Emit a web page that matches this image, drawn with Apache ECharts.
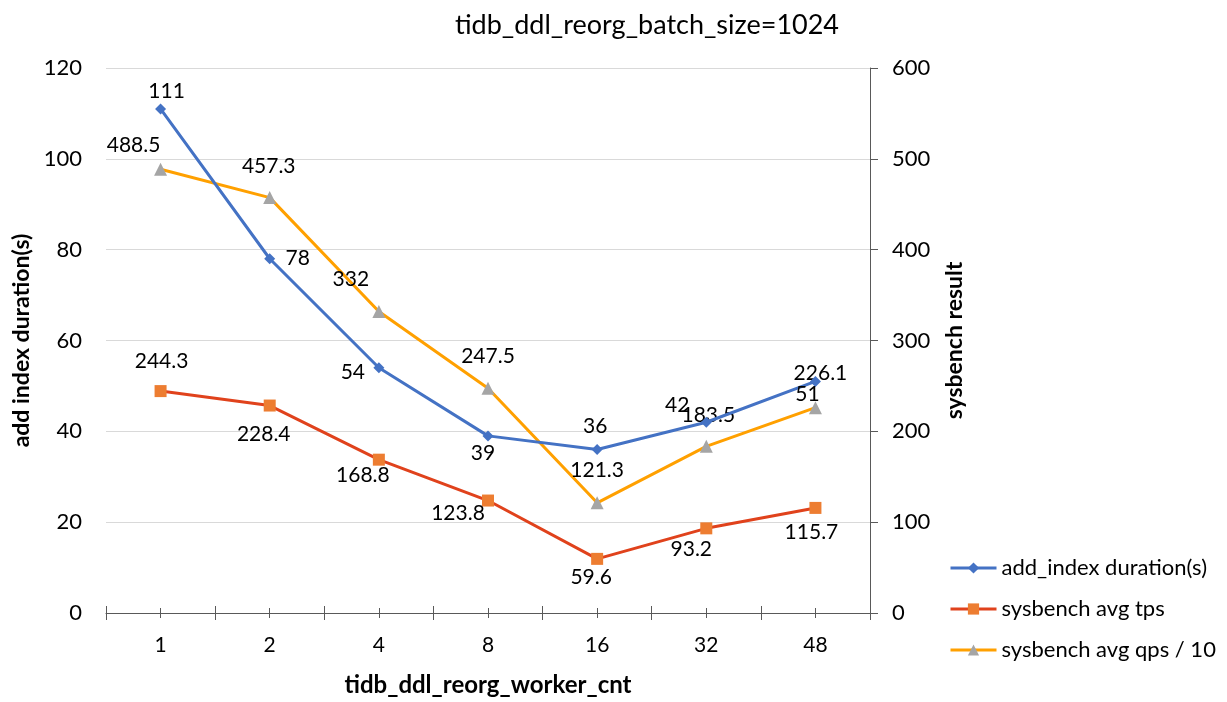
<!DOCTYPE html>
<html>
<head>
<meta charset="utf-8">
<script src="https://cdn.jsdelivr.net/npm/echarts@6/dist/echarts.min.js"></script>
<style>
html,body{margin:0;padding:0;background:#fff;}
#c{width:1227px;height:702px;}
</style>
</head>
<body>
<div id="c"></div>
<script>
const categories = ['1', '2', '4', '8', '16', '32', '48'];
const addIndexDuration = [111, 78, 54, 39, 36, 42, 51];
const sysbenchTps = [244.3, 228.4, 168.8, 123.8, 59.6, 93.2, 115.7];
const sysbenchQps10 = [488.5, 457.3, 332, 247.5, 121.3, 183.5, 226.1];
const seriesNames = ['add_index duration(s)', 'sysbench avg tps', 'sysbench avg qps / 10'];
const titleText = 'tidb_ddl_reorg_batch_size=1024';

// label offsets (style only): label centre relative to marker
const offBlue = [[6,-18],[28,-1],[-26,4],[-5,17],[-2,-23],[-29,-17],[-8,13]];
const offRed = [[1,-30],[-6,29],[-16,16],[-30,13],[-6,18],[-15,21],[-4,24]];
const offQps = [[-27,-24],[-1,-31],[-28,-32],[0,-32],[0,-33],[2,-31],[5,-34]];

const FONT = 'Lato, "Open Sans", sans-serif';

function withLabels(vals, offs) {
  return vals.map((v, i) => ({ value: v, label: { offset: offs[i] } }));
}

const chart = echarts.init(document.getElementById('c'));
const baseLabel = { show: true, position: 'inside', color: '#000', fontSize: 21, fontFamily: FONT };

const xBase = {
  type: 'category', data: categories, boundaryGap: true,
  position: 'bottom', gridIndex: 0
};

chart.setOption({
  animation: false,
  textStyle: { fontFamily: FONT },
  title: {
    text: titleText, left: 642, top: 7, textAlign: 'center',
    textStyle: { fontSize: 27, fontWeight: 'normal', color: '#000', fontFamily: FONT }
  },
  grid: { left: 106, right: 357, top: 68, bottom: 88, containLabel: false },
  legend: {
    orient: 'vertical', left: 944, top: 552, itemWidth: 46, itemHeight: 14, itemGap: 19,
    lineStyle: { width: 3 },
    textStyle: { fontSize: 22, color: '#000', fontFamily: FONT },
    data: seriesNames
  },
  xAxis: [
    Object.assign({}, xBase, {
      name: 'tidb_ddl_reorg_worker_cnt', nameLocation: 'middle', nameGap: 60,
      nameTextStyle: { fontSize: 24, fontWeight: 'bold', color: '#000', fontFamily: FONT },
      axisLine: { show: true, lineStyle: { color: '#595959', width: 1 } },
      axisTick: { show: true, length: 7, inside: false, lineStyle: { color: '#595959' } },
      axisLabel: { fontSize: 21, color: '#000', margin: 22, fontFamily: FONT }
    }),
    Object.assign({}, xBase, {
      axisLine: { show: false },
      axisTick: { show: true, length: 7, inside: true, lineStyle: { color: '#595959' } },
      axisLabel: { show: false }
    }),
    Object.assign({}, xBase, {
      axisLine: { show: false },
      axisTick: { show: true, length: 5, inside: false, alignWithLabel: true, lineStyle: { color: '#595959' } },
      axisLabel: { show: false }
    }),
    Object.assign({}, xBase, {
      axisLine: { show: false },
      axisTick: { show: true, length: 5, inside: true, alignWithLabel: true, lineStyle: { color: '#595959' } },
      axisLabel: { show: false }
    })
  ],
  yAxis: [
    {
      type: 'value', min: 0, max: 120, interval: 20, position: 'left',
      name: 'add index duration(s)', nameLocation: 'middle', nameGap: 68, nameRotate: 90,
      nameTextStyle: { fontSize: 23, fontWeight: 'bold', color: '#000', fontFamily: FONT },
      axisLine: { show: false }, axisTick: { show: false },
      axisLabel: { fontSize: 22, color: '#000', margin: 24, fontFamily: FONT },
      splitLine: { show: true, lineStyle: { color: '#D9D9D9', width: 1 } }
    },
    {
      type: 'value', min: 0, max: 600, interval: 100, position: 'right',
      name: 'sysbench result', nameLocation: 'middle', nameGap: 73, nameRotate: 90,
      nameTextStyle: { fontSize: 23, fontWeight: 'bold', color: '#000', fontFamily: FONT },
      axisLine: { show: true, lineStyle: { color: '#595959', width: 1 } },
      axisTick: { show: true, length: 8, lineStyle: { color: '#595959' } },
      axisLabel: { fontSize: 22, color: '#000', margin: 22, fontFamily: FONT },
      splitLine: { show: false }
    }
  ],
  series: [
    {
      name: seriesNames[0], type: 'line', yAxisIndex: 0,
      data: withLabels(addIndexDuration, offBlue),
      symbol: 'diamond', symbolSize: 11,
      lineStyle: { color: '#4472C4', width: 3 },
      itemStyle: { color: '#4472C4' },
      label: baseLabel, z: 3
    },
    {
      name: seriesNames[1], type: 'line', yAxisIndex: 1,
      data: withLabels(sysbenchTps, offRed),
      symbol: 'rect', symbolSize: 12,
      lineStyle: { color: '#E0421C', width: 3 },
      itemStyle: { color: '#ED7D31' },
      label: baseLabel, z: 2
    },
    {
      name: seriesNames[2], type: 'line', yAxisIndex: 1,
      data: withLabels(sysbenchQps10, offQps),
      symbol: 'triangle', symbolSize: 13,
      lineStyle: { color: '#FFA000', width: 3 },
      itemStyle: { color: '#A5A5A5' },
      label: baseLabel, z: 2
    }
  ]
});
</script>
</body>
</html>
